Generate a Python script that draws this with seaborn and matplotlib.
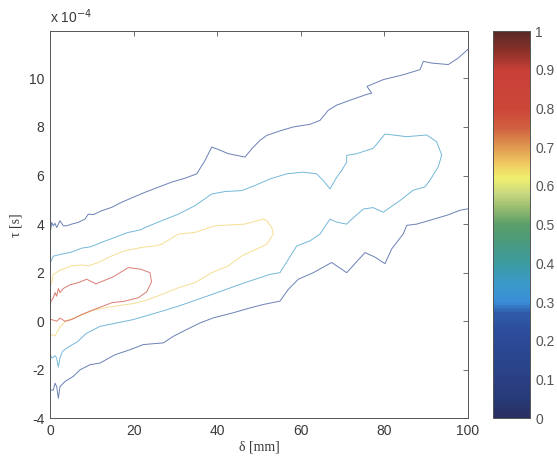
import numpy as np
import pandas as pd
import matplotlib
matplotlib.use("Agg")
import matplotlib.pyplot as plt
import seaborn as sns
from matplotlib.colors import LinearSegmentedColormap, Normalize
from matplotlib.cm import ScalarMappable

# Contour levels of the normalised correlation
levels = [0.2, 0.35, 0.65, 0.8]

# Level 0.2 - upper branch (delta in mm, tau in 1e-4 s)
lvl1_up_delta = [0.0, 0.41, 0.79, 1.20, 1.60, 2.39, 3.18, 4.00, 5.19, 6.77, 8.37, 9.16,
                 10.36, 12.37, 14.76, 17.15, 19.55, 22.73, 25.91, 29.11, 32.30, 35.10,
                 37.08, 38.68, 39.88, 42.66, 46.65, 48.25, 50.24, 51.84, 55.02, 58.20,
                 62.20, 64.59, 66.58, 68.59, 71.77, 75.77, 76.96, 75.84, 79.74, 84.52,
                 88.52, 89.31, 91.32, 95.29, 97.68, 100.0]
lvl1_up_tau = [3.59, 4.07, 3.93, 4.03, 3.86, 4.14, 3.93, 3.93, 4.00, 4.07, 4.21, 4.41,
               4.39, 4.55, 4.69, 4.90, 5.08, 5.31, 5.52, 5.73, 5.89, 6.07,
               6.62, 7.17, 7.10, 6.90, 6.76, 7.10, 7.45, 7.65, 7.84, 8.00,
               8.11, 8.27, 8.69, 8.90, 9.10, 9.34, 9.39, 9.67, 9.95, 10.15,
               10.36, 10.70, 10.63, 10.57, 10.84, 11.20]

# Level 0.2 - lower branch
lvl1_lo_delta = [100.0, 98.09, 94.90, 90.91, 87.73, 85.34, 84.52, 81.75, 80.14, 77.75,
                 75.36, 70.98, 67.39, 62.99, 59.40, 57.01, 55.02, 51.03, 47.85, 43.85,
                 39.07, 35.89, 32.70, 29.50, 27.11, 22.32, 19.14, 15.55, 11.96, 9.57,
                 7.18, 5.57, 3.59, 2.39, 1.99, 1.60, 1.20, 0.79, 0.0]
lvl1_lo_tau = [4.63, 4.57, 4.36, 4.16, 4.00, 3.95, 3.60, 2.98, 2.37, 2.64,
               2.83, 2.00, 2.42, 2.00, 1.73, 1.31, 0.83, 0.69, 0.55, 0.35,
               0.14, -0.07, -0.34, -0.62, -0.89, -0.96, -1.17, -1.38, -1.72, -1.79,
               -2.00, -2.27, -2.48, -2.69, -3.17, -2.69, -2.55, -2.83, -2.83]

# Level 0.35
lvl2_delta = [0.0, 0.79, 2.63, 5.02, 7.58, 9.81, 12.20, 15.31, 18.54, 21.77, 22.73,
              26.72, 30.69, 34.69, 38.68, 41.87, 45.86, 49.04, 52.63, 56.63, 60.60,
              63.80, 65.38, 66.99, 68.59, 69.78, 70.98, 70.98, 73.37, 77.34, 80.14,
              85.33, 90.12, 92.51, 93.71, 92.89, 90.91, 89.71, 86.91, 83.73, 79.74,
              77.27, 74.95, 71.77, 70.98, 68.59, 66.99, 64.59, 62.20, 59.02, 55.02,
              52.63, 46.65, 38.68, 30.69, 26.72, 22.73, 19.93, 15.96, 11.96, 8.61,
              6.58, 4.31, 2.99, 2.39, 1.99, 1.56, 1.20, 0.48, 0.0]
lvl2_tau = [2.39, 2.68, 2.76, 2.84, 3.01, 3.07, 3.24, 3.44, 3.65, 3.77, 3.86,
            4.14, 4.41, 4.76, 5.24, 5.34, 5.38, 5.59, 5.86, 6.07, 6.14,
            6.07, 5.79, 5.45, 5.93, 6.21, 6.55, 6.83, 6.90, 7.12, 7.71,
            7.60, 7.67, 7.39, 6.84, 6.36, 5.81, 5.53, 5.40, 4.97, 4.49,
            4.68, 4.62, 4.14, 4.00, 4.08, 4.21, 3.59, 3.31, 3.10, 2.00,
            1.93, 1.59, 1.10, 0.62, 0.41, 0.21, 0.07, -0.07, -0.21, -0.51,
            -0.84, -1.07, -1.24, -1.50, -1.89, -1.50, -1.42, -1.52, -1.38]

# Level 0.65
lvl3_delta = [0.0, 0.41, 0.79, 2.39, 5.19, 7.58, 9.16, 11.56, 14.76, 17.94, 21.94,
              25.12, 26.72, 30.69, 34.69, 39.47, 46.65, 51.03, 51.84, 53.04, 53.42,
              51.84, 50.24, 45.86, 42.66, 38.68, 34.69, 30.69, 26.72, 22.97, 19.93,
              14.35, 10.36, 6.39, 3.99, 2.39, 1.20, 0.41, 0.0]
lvl3_tau = [1.44, 1.59, 1.93, 2.10, 2.28, 2.32, 2.28, 2.42, 2.69, 2.90, 3.04,
            3.10, 3.17, 3.59, 3.66, 3.93, 4.00, 4.21, 4.14, 3.86, 3.59,
            3.17, 3.04, 2.69, 2.28, 2.00, 1.59, 1.38, 1.10, 0.86, 0.73,
            0.59, 0.46, 0.17, 0.03, -0.22, -0.61, -0.55, -0.59]

# Level 0.8
lvl4_delta = [0.0, 0.24, 0.79, 1.20, 1.60, 1.99, 2.39, 3.18, 4.78, 6.77, 8.78, 10.99,
              15.14, 18.73, 21.77, 23.92, 24.28, 23.13, 21.13, 17.94, 14.76, 11.56,
              7.58, 5.19, 3.59, 2.39, 1.60, 0.41, 0.0]
lvl4_tau = [0.55, 0.83, 0.97, 1.18, 1.03, 1.35, 1.18, 1.35, 1.50, 1.59, 1.73, 1.54,
            1.83, 2.21, 2.14, 2.00, 1.62, 1.21, 0.97, 0.83, 0.76, 0.55,
            0.28, 0.07, 0.00, 0.13, 0.00, 0.07, 0.07]

# Colour scale (muted jet)
cmap_colors = [
    (0.00, "#282e60"), (0.05, "#283a78"), (0.12, "#2a4288"), (0.22, "#2c4c9a"),
    (0.27, "#2f5aa8"), (0.30, "#3a8ed8"), (0.35, "#3a9ac8"), (0.40, "#3c9aa0"),
    (0.45, "#4a9a80"), (0.50, "#5a9e6a"), (0.55, "#a0c070"), (0.58, "#c8d880"),
    (0.62, "#f0f070"), (0.66, "#f0c860"), (0.70, "#e09a50"), (0.75, "#d06040"),
    (0.80, "#cc4638"), (0.90, "#c84038"), (0.95, "#8a3028"), (1.00, "#5a2a28"),
]
cmap = LinearSegmentedColormap.from_list("mjet", cmap_colors)
norm = Normalize(0, 1)

segments = [
    (levels[0], "a", lvl1_up_delta, lvl1_up_tau),
    (levels[0], "b", lvl1_lo_delta, lvl1_lo_tau),
    (levels[1], "c", lvl2_delta, lvl2_tau),
    (levels[2], "d", lvl3_delta, lvl3_tau),
    (levels[3], "e", lvl4_delta, lvl4_tau),
]
frames = []
for lev, seg, d, t in segments:
    frames.append(pd.DataFrame({
        "delta": d,
        "tau": np.asarray(t) * 1e-4,
        "level": lev,
        "seg": seg,
    }))
df = pd.concat(frames, ignore_index=True)

sns.set_theme(style="white")
plt.rcParams["font.family"] = ["Liberation Sans", "DejaVu Sans"]
text_col = "#3a3a3a"

fig = plt.figure(figsize=(5.57, 4.61), dpi=100)
ax = fig.add_axes([0.0898, 0.0924, 0.7504, 0.8403])
cax = fig.add_axes([0.8851, 0.0924, 0.0659, 0.8403])

palette = {lev: cmap(norm(lev)) for lev in levels}
sns.lineplot(data=df, x="delta", y="tau", hue="level", units="seg",
             estimator=None, sort=False, palette=palette, legend=False,
             linewidth=0.7, alpha=0.7, ax=ax)

ax.set_xlim(0, 100)
ax.set_ylim(-4e-4, 11.95e-4)
ax.set_xticks(np.arange(0, 101, 20))
ax.set_yticks(np.arange(-4, 11, 2) * 1e-4)
ax.set_yticklabels([f"{v:d}" for v in range(-4, 11, 2)])
ax.tick_params(direction="in", length=3.5, width=0.6, top=True, right=True,
               labelsize=10, colors="#555555", labelcolor=text_col, pad=4)
for sp in ax.spines.values():
    sp.set_color("#555555")
    sp.set_linewidth(0.7)
ax.set_xlabel("δ [mm]", family=["Liberation Serif", "DejaVu Serif"], fontsize=10,
              color=text_col, labelpad=2)
ax.set_ylabel("τ [s]", family=["Liberation Serif", "DejaVu Serif"], fontsize=10,
              color=text_col, labelpad=5)
ax.text(0.0, 1.012, "x 10$^{-4}$", transform=ax.transAxes, fontsize=10,
        color=text_col, ha="left", va="bottom")

sm = ScalarMappable(norm=norm, cmap=cmap)
cb = fig.colorbar(sm, cax=cax)
cb.set_ticks(np.arange(0, 1.01, 0.1))
cb.set_ticklabels(["0"] + [f"{v:.1f}" for v in np.arange(0.1, 0.95, 0.1)] + ["1"])
cb.ax.tick_params(direction="in", length=3, width=0.6, labelsize=10,
                  colors="#555555", labelcolor="#555555", pad=4)
cb.outline.set_edgecolor("#555555")
cb.outline.set_linewidth(0.7)

fig.savefig("out.png", dpi=100, facecolor="white")
